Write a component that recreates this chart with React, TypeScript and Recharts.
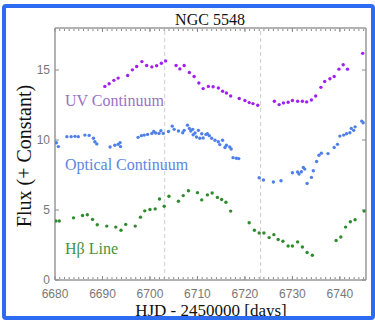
import React from 'react';
import { ScatterChart, Scatter, XAxis, YAxis, ReferenceLine } from 'recharts';

const uvDays = [6690.5, 6691.4, 6692.4, 6693.3, 6695.3, 6696.3, 6697.2, 6698.3, 6699.3, 6700.4, 6701.4, 6702.4, 6703.3, 6705.5, 6706.3, 6707.2, 6708.3, 6709.3, 6710.3, 6711.2, 6712.3, 6713.3, 6714.4, 6715.3, 6716.1, 6717.0, 6718.8, 6720.0, 6720.9, 6721.7, 6722.7, 6726.2, 6727.2, 6728.1, 6729.1, 6730.0, 6731.1, 6732.1, 6733.0, 6734.0, 6734.9, 6736.0, 6736.8, 6737.9, 6738.8, 6739.8, 6740.7, 6741.6, 6744.8];
const uvFlux = [13.83, 14.02, 14.26, 14.42, 14.61, 15.01, 15.25, 15.6, 15.32, 15.22, 15.3, 15.48, 15.65, 15.32, 15.08, 15.32, 14.82, 14.54, 14.07, 13.67, 13.83, 13.8, 13.71, 13.48, 13.36, 13.14, 12.96, 12.82, 12.67, 12.6, 12.48, 12.77, 12.53, 12.65, 12.7, 12.82, 12.77, 12.77, 12.72, 12.86, 13.14, 13.76, 14.18, 14.37, 14.54, 15.06, 15.37, 15.06, 16.19];

const optDays = [6680.3, 6680.7, 6682.5, 6683.4, 6684.2, 6684.9, 6686.3, 6687.2, 6688.1, 6688.4, 6688.8, 6691.6, 6692.6, 6693.3, 6693.7, 6693.8, 6697.5, 6698.2, 6698.8, 6699.5, 6700.4, 6700.8, 6701.2, 6701.9, 6702.3, 6702.8, 6703.9, 6704.7, 6705.1, 6706.0, 6706.9, 6707.2, 6707.9, 6708.3, 6708.6, 6709.0, 6709.1, 6709.5, 6709.8, 6710.2, 6710.5, 6710.9, 6711.2, 6711.8, 6712.1, 6712.5, 6713.0, 6713.7, 6714.4, 6714.7, 6715.3, 6715.8, 6716.1, 6716.8, 6717.1, 6717.5, 6718.2, 6718.7, 6723.0, 6723.9, 6726.0, 6727.6, 6730.0, 6731.1, 6731.4, 6731.9, 6732.3, 6732.6, 6733.1, 6734.0, 6734.4, 6735.1, 6735.6, 6736.1, 6737.5, 6738.8, 6739.5, 6740.0, 6740.8, 6741.4, 6742.1, 6742.4, 6742.9, 6743.2, 6744.6, 6744.9];
const optFlux = [9.8, 9.53, 10.24, 10.24, 10.26, 10.24, 10.35, 10.33, 10.12, 9.88, 9.72, 9.5, 9.62, 9.69, 9.81, 9.53, 10.19, 10.31, 10.35, 10.4, 10.47, 10.61, 10.5, 10.47, 10.66, 10.47, 10.61, 10.99, 10.76, 10.64, 10.52, 10.69, 11.06, 10.83, 10.64, 10.76, 10.38, 10.5, 10.21, 10.69, 10.12, 10.45, 10.14, 10.4, 10.45, 10.31, 10.12, 9.98, 9.88, 9.67, 9.98, 9.46, 9.62, 9.5, 9.36, 8.74, 8.7, 8.67, 7.3, 7.14, 7.0, 7.09, 7.66, 7.71, 7.57, 7.73, 8.04, 7.92, 6.9, 7.33, 7.8, 8.46, 8.91, 9.06, 9.03, 9.46, 9.69, 10.28, 10.35, 10.45, 10.52, 10.83, 10.69, 10.94, 11.35, 11.23];

const hbDays = [6680.2, 6680.9, 6683.9, 6685.8, 6686.8, 6687.9, 6688.9, 6690.9, 6692.8, 6693.9, 6694.9, 6696.9, 6698.0, 6698.9, 6700.0, 6701.1, 6702.0, 6703.0, 6704.0, 6706.0, 6707.0, 6708.1, 6710.0, 6710.9, 6712.1, 6713.1, 6714.2, 6715.1, 6716.0, 6717.0, 6720.9, 6722.0, 6723.0, 6724.0, 6725.1, 6726.1, 6727.0, 6728.0, 6729.1, 6730.0, 6731.1, 6732.1, 6733.1, 6734.2, 6739.2, 6740.2, 6741.2, 6742.2, 6743.2, 6745.1];
const hbFlux = [4.21, 4.21, 4.44, 4.61, 4.66, 4.33, 3.95, 3.85, 3.78, 3.55, 3.97, 3.85, 4.49, 4.94, 5.04, 5.08, 5.79, 5.27, 5.98, 5.62, 6.03, 6.38, 6.24, 5.72, 6.08, 6.21, 5.9, 5.75, 5.55, 4.92, 4.09, 3.55, 3.36, 3.36, 3.03, 3.24, 2.89, 2.77, 2.43, 2.43, 2.72, 2.36, 1.96, 1.77, 2.82, 3.07, 3.78, 4.16, 4.3, 4.92];

const xMajorTicks = [6680, 6690, 6700, 6710, 6720, 6730, 6740];
const xMinorTicks: number[] = [];
for (let d = 6680; d <= 6745; d += 1) xMinorTicks.push(d);
const yTicks = [0, 5, 10, 15];
const markerDays = [6703.1, 6723.3];
const xDomain: [number, number] = [6680, 6745.5];
const yDomain: [number, number] = [0, 18];

const zip = (xs: number[], ys: number[]) =>
  xs.slice(0, Math.min(xs.length, ys.length)).map((x, i) => ({ x, y: ys[i] }));

const uvData = zip(uvDays, uvFlux);
const optData = zip(optDays, optFlux);
const hbData = zip(hbDays, hbFlux);

const AXIS = '#999';
const TICK_LINE = { stroke: '#8a8a8a', strokeWidth: 1 };
const TICK_FONT = { fontFamily: '"Liberation Sans", Arial, sans-serif', fontSize: 12, fill: '#777' };
const SERIF = '"Liberation Serif", "Times New Roman", serif';

const EmptyTick = () => <g />;

const dot = (color: string) => (p: any) =>
  <circle cx={p.cx} cy={p.cy} r={1.7} fill={color} />;

export default function App() {
  return (
    <div style={{ position: 'absolute', left: 0, top: 0, width: 375, height: 320, background: '#fff', overflow: 'hidden' }}>
      <ScatterChart width={375} height={320} margin={{ top: 28, right: 9, bottom: 10, left: 15 }}>
        <XAxis xAxisId="b" dataKey="x" type="number" domain={xDomain} ticks={xMajorTicks}
          allowDataOverflow orientation="bottom" height={30} tickLine={false} tickSize={0} tickMargin={9}
          axisLine={{ stroke: AXIS, strokeWidth: 1.5 }} tick={TICK_FONT} />
        <XAxis xAxisId="bM" dataKey="x" type="number" domain={xDomain} ticks={xMajorTicks}
          allowDataOverflow orientation="bottom" mirror height={1} axisLine={false}
          tickLine={TICK_LINE} tickSize={4} tick={EmptyTick} />
        <XAxis xAxisId="bm" dataKey="x" type="number" domain={xDomain} ticks={xMinorTicks}
          allowDataOverflow orientation="bottom" mirror height={1} axisLine={false} interval={0}
          tickLine={TICK_LINE} tickSize={2} tick={EmptyTick} />
        <XAxis xAxisId="tM" dataKey="x" type="number" domain={xDomain} ticks={xMajorTicks}
          allowDataOverflow orientation="top" mirror height={1}
          axisLine={{ stroke: AXIS, strokeWidth: 1.5 }} tickLine={TICK_LINE} tickSize={4} tick={EmptyTick} />
        <XAxis xAxisId="tm" dataKey="x" type="number" domain={xDomain} ticks={xMinorTicks}
          allowDataOverflow orientation="top" mirror height={1} axisLine={false} interval={0}
          tickLine={TICK_LINE} tickSize={2} tick={EmptyTick} />

        <YAxis yAxisId="l" dataKey="y" type="number" domain={yDomain} ticks={yTicks} allowDataOverflow
          orientation="left" width={40} tickLine={false} tickSize={0} tickMargin={5}
          axisLine={{ stroke: AXIS, strokeWidth: 1.5 }} tick={TICK_FONT} />
        <YAxis yAxisId="lM" dataKey="y" type="number" domain={yDomain} ticks={yTicks} allowDataOverflow
          orientation="left" mirror width={1} axisLine={false} tickLine={TICK_LINE} tickSize={4} tick={EmptyTick} />
        <YAxis yAxisId="rM" dataKey="y" type="number" domain={yDomain} ticks={yTicks} allowDataOverflow
          orientation="right" mirror width={1} axisLine={{ stroke: AXIS, strokeWidth: 1.5 }}
          tickLine={TICK_LINE} tickSize={4} tick={EmptyTick} />

        {markerDays.map((d) => (
          <ReferenceLine key={d} xAxisId="b" yAxisId="l" x={d} stroke="#cfcfcf" strokeDasharray="4 3" />
        ))}

        <Scatter xAxisId="b" yAxisId="l" data={uvData} isAnimationActive={false} shape={dot('#a020f0')} />
        <Scatter xAxisId="b" yAxisId="l" data={optData} isAnimationActive={false} shape={dot('#4f80ea')} />
        <Scatter xAxisId="b" yAxisId="l" data={hbData} isAnimationActive={false} shape={dot('#2e8b2e')} />
      </ScatterChart>

      <svg width={375} height={320} style={{ position: 'absolute', left: 0, top: 0, pointerEvents: 'none' }}>
        <text x={210} y={25} textAnchor="middle" fontFamily={SERIF} fontSize={16} fill="#111">NGC 5548</text>
        <text x={211} y={316} textAnchor="middle" fontFamily={SERIF} fontSize={17} fill="#111">HJD - 2450000 [days]</text>
        <text x={31} y={156} textAnchor="middle" fontFamily={SERIF} fontSize={20} fill="#111"
          transform="rotate(-90, 31, 156)">Flux (+ Constant)</text>
        <text x={65} y={106} fontFamily={SERIF} fontSize={16} fill="#9a72c4">UV Continuum</text>
        <text x={65} y={170} fontFamily={SERIF} fontSize={16} fill="#5b87e0">Optical Continuum</text>
        <text x={65} y={254} fontFamily={SERIF} fontSize={16} fill="#3f963f">Hβ Line</text>
      </svg>

      <div style={{ position: 'absolute', left: 2, top: 4, width: 373, height: 316, boxSizing: 'border-box',
        border: '4px solid #2d6cf0', borderRadius: 4, pointerEvents: 'none' }} />
    </div>
  );
}
